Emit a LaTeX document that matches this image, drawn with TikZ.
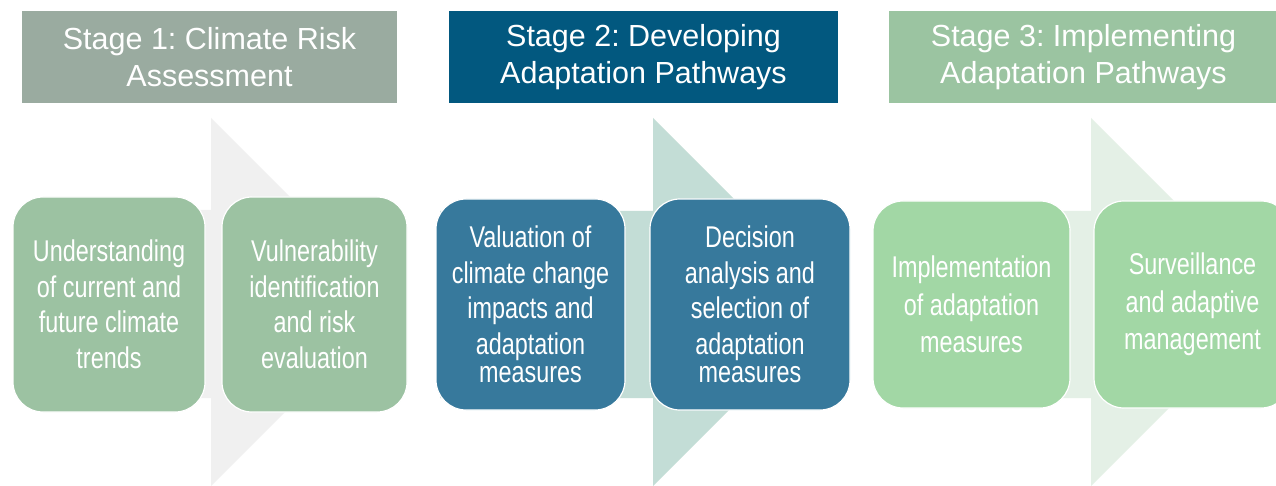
\documentclass[tikz,border=0pt]{standalone}
\usepackage{fontspec}
\setmainfont{Liberation Sans}
\newfontfamily\boxfont[FakeStretch=0.78]{Liberation Sans}
\definecolor{hA}{RGB}{154,171,160}
\definecolor{hB}{RGB}{2,88,127}
\definecolor{hC}{RGB}{155,196,161}
\definecolor{bA}{RGB}{156,194,162}
\definecolor{bB}{RGB}{55,121,156}
\definecolor{bC}{RGB}{162,215,165}
\definecolor{aA}{RGB}{240,240,240}
\definecolor{aB}{RGB}{195,221,214}
\definecolor{aC}{RGB}{228,240,230}
\tikzset{
  hdr/.style={minimum height=92pt, inner sep=0pt, text=white, align=center,
    font=\frenchspacing\fontsize{30.5}{37}\selectfont},
  card/.style={rounded corners=30pt, draw=white, line width=1.2pt, text=white,
    align=center, inner sep=0pt, font=\boxfont\fontsize{30}{35.5}\selectfont}
}
\begin{document}
\begin{tikzpicture}[x=1pt,y=-1pt]
\useasboundingbox (0,0) rectangle (1276,486);
\clip (0,0) rectangle (1276,486);
\fill[white] (0,0) rectangle (1276,486);
% headers
\node[hdr, fill=hA, minimum width=375pt] (h1) at (209.5,57) {Stage 1: Climate Risk\\Assessment};
\node[hdr, fill=hB, minimum width=389pt] (h2) at (643.5,57) {Stage 2: Developing\\Adaptation Pathways};
\node[hdr, fill=hC, minimum width=389pt] (h3) at (1083.5,57) {Stage 3: Implementing\\Adaptation Pathways};
% background arrows
\fill[aA] (20,210) -- (211,210) -- (211,118) -- (395,302) -- (211,486) -- (211,398) -- (20,398) -- cycle;
\fill[aB] (440,211) -- (653,211) -- (653,118) -- (837,302) -- (653,486) -- (653,398) -- (440,398) -- cycle;
\fill[aC] (880,211) -- (1091,211) -- (1091,118) -- (1275,302) -- (1091,486) -- (1091,398) -- (880,398) -- cycle;
% stage 1 cards
\node[card, fill=bA, minimum width=192pt, minimum height=215pt] (a) at (109,304.5)
  {Understanding\\of current and\\future climate\\trends};
\node[card, fill=bA, minimum width=185pt, minimum height=215pt] (b) at (314.5,304.5)
  {Vulnerability\\identification\\and risk\\evaluation};
% stage 2 cards
\node[card, fill=bB, minimum width=189pt, minimum height=211pt] (c) at (530.5,304.5)
  {Valuation of\\climate change\\impacts and\\adaptation\\[-7pt]measures};
\node[card, fill=bB, minimum width=200pt, minimum height=211pt] (d) at (750,304.5)
  {Decision\\analysis and\\selection of\\adaptation\\[-7pt]measures};
% stage 3 cards
\node[card, fill=bC, minimum width=197pt, minimum height=207pt, font=\boxfont\fontsize{30}{37.5}\selectfont] (e) at (971.5,304.5)
  {Implementation\\of adaptation\\measures};
\node[card, fill=bC, minimum width=197pt, minimum height=207pt, font=\boxfont\fontsize{30}{37.5}\selectfont] (f) at (1192.5,304.5)
  {Surveillance\\and adaptive\\management};
\end{tikzpicture}
\end{document}
